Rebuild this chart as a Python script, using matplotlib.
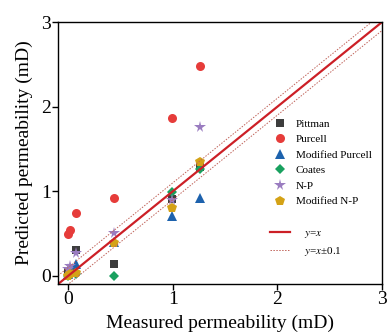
import matplotlib
matplotlib.use("Agg")
import matplotlib.pyplot as plt
from matplotlib.lines import Line2D
import numpy as np

plt.rcParams['font.family'] = ['Liberation Serif', 'DejaVu Serif']
plt.rcParams['mathtext.fontset'] = 'stix'

# measured permeability (mD) for the samples
measured = [0.0, 0.01, 0.07, 0.44, 0.99, 1.26]

# predicted permeability by each model
pittman = [0.05, 0.06, 0.30, 0.14, 0.91, 1.29]
purcell = [0.49, 0.54, 0.74, 0.92, 1.87, 2.48]
mod_purcell = [0.02, 0.05, 0.14, 0.40, 0.71, 0.92]
coates = [0.0, 0.01, 0.02, 0.0, 0.99, 1.26]
np_model = [0.08, 0.11, 0.27, 0.51, 0.89, 1.76]
mod_np = [0.0, 0.02, 0.03, 0.39, 0.80, 1.35]

series = [
    ("Pittman", pittman, "s", "#3d3d3d", 5.5),
    ("Purcell", purcell, "o", "#e63c3a", 6.5),
    ("Modified Purcell", mod_purcell, "^", "#1d62ad", 6.5),
    ("Coates", coates, "D", "#19a15f", 5.5),
    ("N-P", np_model, "*", "#9a7cc0", 8.5),
    ("Modified N-P", mod_np, "p", "#d4a216", 7.5),
]

fig = plt.figure(figsize=(3.87, 3.35), dpi=100)
ax = fig.add_axes([0.150, 0.152, 0.837, 0.782])

handles = []
for name, vals, mk, col, ms in series:
    h, = ax.plot(measured, vals, linestyle="none", marker=mk, color=col,
                 markersize=ms, markeredgewidth=0, label=name)
    handles.append(h)

xx = np.array([-0.1, 3.0])
ln, = ax.plot(xx, xx, color="#cc1f26", lw=1.6)
dl, = ax.plot(xx, xx + 0.1, color="#c0635a", lw=0.7, ls=(0, (1.5, 1.5)))
ax.plot(xx, xx - 0.1, color="#c0635a", lw=0.7, ls=(0, (1.5, 1.5)))

ax.set_xlim(-0.1, 3)
ax.set_ylim(-0.1, 3)
ax.set_xticks([0, 1, 2, 3])
ax.set_yticks([0, 1, 2, 3])
ax.tick_params(direction="out", length=4, width=1, labelsize=14, pad=1)
ax.tick_params(top=False, right=False)
for s in ax.spines.values():
    s.set_linewidth(1)
ax.set_xlabel("Measured permeability (mD)", fontsize=14, labelpad=5)
ax.set_ylabel("Predicted permeability (mD)", fontsize=14, labelpad=6)

blank = Line2D([], [], linestyle="none")
leg_handles = handles + [blank, ln, dl]
leg_labels = [s[0] for s in series] + ["", "   $y$=$x$", "   $y$=$x$\u00b10.1"]
leg = ax.legend(leg_handles, leg_labels, loc="lower right",
                bbox_to_anchor=(1.0, 0.06), frameon=False, fontsize=8,
                handlelength=1.8, labelspacing=0.52, handletextpad=0.55)

fig.savefig("out.png", dpi=100)
